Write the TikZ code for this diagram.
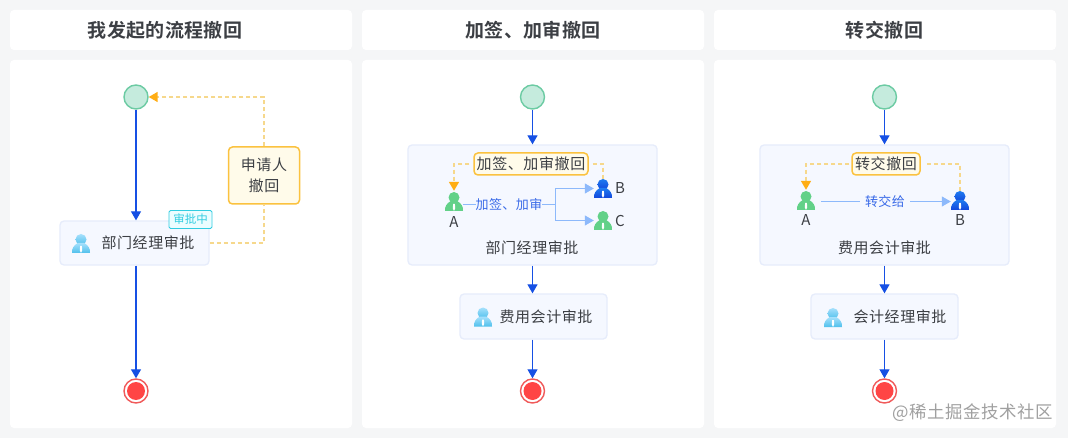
\documentclass[tikz,border=0pt]{standalone}
\usepackage{fontspec}
\usetikzlibrary{arrows.meta,calc}
\setmainfont{Noto Sans CJK SC}
\newfontfamily\titlefont[BoldFont={Noto Sans CJK SC Bold},LetterSpace=2]{Noto Sans CJK SC}
\newfontfamily\bodyfont[LetterSpace=4]{Noto Sans CJK SC}
\newfontfamily\markfont[LetterSpace=3]{Noto Sans CJK SC}
\definecolor{pagebg}{HTML}{F5F6F7}
\definecolor{ink}{HTML}{3C3F44}
\definecolor{flow}{HTML}{1650E4}
\definecolor{pale}{HTML}{8DB9FB}
\definecolor{orangeT}{HTML}{FFAD14}
\definecolor{dashY}{HTML}{F6D88C}
\definecolor{greenP}{HTML}{62D188}
\definecolor{startD}{HTML}{6CCBA3}
\definecolor{startF}{HTML}{C5EBDD}
\definecolor{endD}{HTML}{F05A5A}
\definecolor{endF}{HTML}{FF4545}
\definecolor{taskD}{HTML}{E6ECFB}
\definecolor{taskF}{HTML}{F5F8FF}
\definecolor{revD}{HTML}{FBC23F}
\definecolor{revF}{HTML}{FFFBEA}
\definecolor{badgeD}{HTML}{32CDE1}
\definecolor{badgeF}{HTML}{ECFDFF}
\definecolor{markC}{HTML}{A0A0A0}
\definecolor{iconT}{HTML}{A6E0FC}
\definecolor{iconB}{HTML}{4FC0EC}
\definecolor{blueT}{HTML}{1E7BF0}
\definecolor{blueB}{HTML}{1246DC}
\tikzset{
  x=1pt,y=-1pt,
  panel/.style={fill=white,draw=none,rounded corners=4pt},
  txt/.style={text=ink,font=\bodyfont\fontsize{15}{20}\selectfont,inner sep=0pt},
  headtxt/.style={text=ink,font=\titlefont\fontsize{19}{24}\selectfont\bfseries,inner sep=0pt},
  startn/.style={circle,draw=startD,fill=startF,line width=1.4pt,minimum size=24pt,inner sep=0pt},
  endn/.style={circle,draw=endD,fill=white,line width=1.4pt,minimum size=24pt,inner sep=0pt},
  taskn/.style={draw=taskD,fill=taskF,line width=1.3pt,rounded corners=4pt,inner sep=0pt},
  revn/.style={draw=revD,fill=revF,line width=1.5pt,rounded corners=4pt,inner sep=0pt,text=ink,font=\bodyfont\fontsize{15}{21}\selectfont,align=center},
  badge/.style={draw=badgeD,fill=badgeF,line width=.9pt,rounded corners=1.5pt,inner sep=0pt,text=badgeD,font=\fontsize{11.5}{14}\selectfont},
  iconn/.style={minimum width=18pt,minimum height=19pt,inner sep=0pt,draw=none},
  flowln/.style={draw=flow,line width=1.2pt,-{Triangle[length=9pt,width=10pt,fill=flow]}},
  dashln/.style={draw=dashY,line width=1.5pt,dash pattern=on 4pt off 3pt},
  dasharr/.style={dashln,-{Triangle[length=9pt,width=10pt,fill=orangeT,color=orangeT]}},
  paleln/.style={draw=pale,line width=1pt},
  palearr/.style={paleln,-{Triangle[length=9pt,width=10pt,fill=pale,color=pale]}},
  palelab/.style={inner sep=0pt,text=flow!85!white,font=\markfont\fontsize{13}{16}\selectfont},
  lettr/.style={inner sep=0pt,text=ink,font=\fontsize{15}{18}\selectfont},
  taskicon/.style={top color=iconT,bottom color=iconB,draw=none},
  blueicon/.style={top color=blueT,bottom color=blueB,draw=none},
  greenicon/.style={fill=greenP,draw=none},
  pics/person/.style={code={
    \path[#1] (0,-4) circle[radius=5.5];
    \path[#1] (-9,9.5) .. controls (-9.5,5) and (-7,1.5) .. (-3,-0.5) -- (3,-0.5) .. controls (7,1.5) and (9.5,5) .. (9,9.5) -- cycle;
    \fill[white] (-0.9,2.5) -- (0.9,2.5) -- (1.2,7) -- (0,9.5) -- (-1.2,7) -- cycle;
  }}
}
\newcommand{\finish}[1]{\fill[endF] (#1) circle[radius=9];}
\begin{document}
\begin{tikzpicture}
\useasboundingbox (0,0) rectangle (1068,438);
\fill[pagebg] (0,0) rectangle (1068,438);
% panels
\fill[panel] (10,10) rectangle (352,50);
\fill[panel] (362,10) rectangle (704,50);
\fill[panel] (714,10) rectangle (1056,50);
\fill[panel] (10,60) rectangle (352,428);
\fill[panel] (362,60) rectangle (704,428);
\fill[panel] (714,60) rectangle (1056,428);
\node[headtxt] (t1) at (165,30) {我发起的流程撤回};
\node[headtxt] (t2) at (533,30) {加签、加审撤回};
\node[headtxt] (t3) at (884.5,30) {转交撤回};

% ---- left
\node[startn] (s1) at (136,97) {};
\node[taskn,minimum width=149pt,minimum height=44pt] (k1) at (134.5,243) {};
\node[badge,minimum width=43pt,minimum height=18pt] (bg) at (190.5,219.5) {审批中};
\node[revn,minimum width=71pt,minimum height=57pt] (r1) at (264,175.5) {申请人\\撤回};
\node[endn] (e1) at (136,391) {};
\finish{e1}
\node[iconn] (i1) at (81,243.5) {};
\pic at (i1) {person=taskicon};
\node[txt] (l1) at (148,243) {部门经理审批};
\draw[flowln] (s1.south) -- (s1.south |- k1.north);
\draw[flowln] (s1.south |- k1.south) -- (e1.north);
\draw[dashln] (k1.east) -| (r1.south);
\draw[dasharr] (r1.north) |- (s1.east);

% ---- middle
\node[startn] (s2) at (532.5,97) {};
\node[taskn,minimum width=249pt,minimum height=120pt] (g2) at (532.5,205) {};
\node[revn,minimum width=114pt,minimum height=22pt] (r2) at (531,164) {加签、加审撤回};
\node[iconn] (a2) at (454,201.5) {};
\node[iconn] (b2) at (603,188.5) {};
\node[iconn] (c2) at (603,220.5) {};
\pic at (a2) {person=greenicon};
\pic at (b2) {person=blueicon};
\pic at (c2) {person=greenicon};
\node[lettr] (la2) at (454,222) {A};
\node[lettr] (lb2) at (620,188.5) {B};
\node[lettr] (lc2) at (620,221) {C};
\node[palelab] (m2) at (509,204.5) {加签、加审};
\coordinate (j2) at (555.5,204.5);
\node[txt] (n2) at (532,248) {部门经理审批};
\node[taskn,minimum width=147pt,minimum height=45pt] (k2) at (533.5,316.5) {};
\node[iconn] (i2) at (483,317) {};
\pic at (i2) {person=taskicon};
\node[txt] (l2) at (546,317) {费用会计审批};
\node[endn] (e2) at (532.5,391) {};
\finish{e2}
\draw[flowln] (s2.south) -- (s2.south |- g2.north);
\draw[flowln] (s2.south |- g2.south) -- (s2.south |- k2.north);
\draw[flowln] (s2.south |- k2.south) -- (e2.north);
\draw[dasharr,shorten <=4pt] (r2.west) -| ($(a2.north)+(0,-1)$);
\draw[dashln,shorten <=4pt] (r2.east) -| (b2.north);
\draw[paleln] (a2.east |- m2) -- (m2.west);
\draw[paleln] (m2.east) -- (j2);
\draw[palearr] (j2) |- (b2.west);
\draw[palearr] (j2) |- (c2.west);

% ---- right
\node[startn] (s3) at (884.5,97) {};
\node[taskn,minimum width=249pt,minimum height=120pt] (g3) at (884.5,205) {};
\node[revn,minimum width=68pt,minimum height=22pt] (r3) at (886,164) {转交撤回};
\node[iconn] (a3) at (806,200.5) {};
\node[iconn] (b3) at (960,200.5) {};
\pic at (a3) {person=greenicon};
\pic at (b3) {person=blueicon};
\node[lettr] (la3) at (806,220) {A};
\node[lettr] (lb3) at (960,220) {B};
\node[palelab] (m3) at (885,201.5) {转交给};
\node[txt] (n3) at (884.5,248) {费用会计审批};
\node[taskn,minimum width=147pt,minimum height=45pt] (k3) at (884.5,316.5) {};
\node[iconn] (i3) at (833,317.5) {};
\pic at (i3) {person=taskicon};
\node[txt] (l3) at (900,317) {会计经理审批};
\node[endn] (e3) at (884.5,391) {};
\finish{e3}
\draw[flowln] (s3.south) -- (s3.south |- g3.north);
\draw[flowln] (s3.south |- g3.south) -- (s3.south |- k3.north);
\draw[flowln] (s3.south |- k3.south) -- (e3.north);
\draw[dasharr,shorten <=2pt] (r3.west) -| ($(a3.north)+(0,-1)$);
\draw[dashln,shorten <=6pt] (r3.east) -| (b3.north);
\draw[paleln,shorten <=6pt,shorten >=5pt] (a3.east |- m3) -- (m3.west);
\draw[palearr,shorten <=5pt] (m3.east) -- (b3.west |- m3);

% watermark
\node[inner sep=0pt,text=markC,font=\markfont\fontsize{17.4}{20}\selectfont] (wm) at (972.5,413) {@稀土掘金技术社区};
\end{tikzpicture}
\end{document}
